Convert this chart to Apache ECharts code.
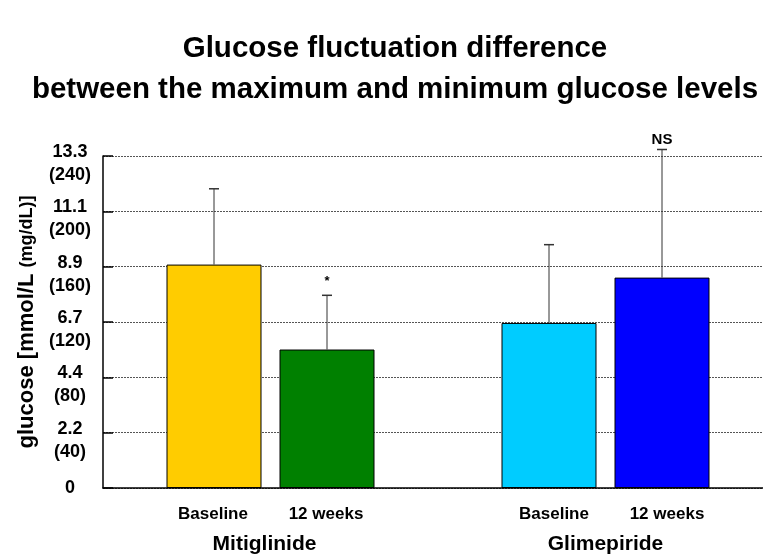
<!DOCTYPE html>
<html>
<head>
<meta charset="utf-8">
<script src="https://cdn.jsdelivr.net/npm/echarts@6/dist/echarts.min.js"></script>
<style>
  html, body { margin: 0; padding: 0; background: #fff; }
  #main { width: 763px; height: 555px; }
</style>
</head>
<body>
<div id="main"></div>
<script>
// data (glucose in mg/dL)
var groups = ['Mitiglinide', 'Glimepiride'];
var periods = ['Baseline', '12 weeks'];
var baselineMean = [161.5, 119.3];
var baselineSD = [54.8, 56.6];
var week12Mean = [100.1, 152.1];
var week12SD = [39.2, 92.6];
var week12Sig = ['*', 'NS'];
var baselineSig = ['', ''];
var mgTicks = [0, 40, 80, 120, 160, 200, 240];
var mmolTicks = ['0', '2.2', '4.4', '6.7', '8.9', '11.1', '13.3'];

var baselineColors = ['#FFCC00', '#00CCFF'];
var week12Colors = ['#008000', '#0000FF'];

var FONT = 'Liberation Sans, Arial, sans-serif';
var BAR_W = 95;
var BAR_GAP = 18;

var myChart = echarts.init(document.getElementById('main'));

function errorSeries(means, sds, sigs, side) {
  var data = means.map(function (m, i) { return [i, m, m + sds[i], sigs[i]]; });
  return {
    type: 'custom',
    z: 5,
    clip: false,
    data: data,
    renderItem: function (params, api) {
      var lo = api.coord([api.value(0), api.value(1)]);
      var hi = api.coord([api.value(0), api.value(2)]);
      var x = lo[0] + side * (BAR_W + BAR_GAP) / 2;
      var sig = data[params.dataIndex][3];
      var children = [
        { type: 'line', shape: { x1: x, y1: lo[1], x2: x, y2: hi[1] }, style: { stroke: '#333', lineWidth: 1 } },
        { type: 'line', shape: { x1: x - 5, y1: hi[1], x2: x + 5, y2: hi[1] }, style: { stroke: '#333', lineWidth: 1.5 } }
      ];
      if (sig) {
        children.push({
          type: 'text',
          style: {
            text: sig, x: x, y: hi[1] - (sig === '*' ? 7 : 2),
            align: 'center', verticalAlign: 'bottom',
            font: 'bold ' + (sig === '*' ? 13 : 15) + 'px ' + FONT, fill: '#000'
          }
        });
      }
      return { type: 'group', children: children };
    }
  };
}

function barData(means, colors) {
  return means.map(function (v, i) {
    return {
      value: v,
      itemStyle: { color: colors[i] },
      label: { offset: [i === 1 ? 5 : -1, 40] }
    };
  });
}

var barLabel = {
  show: true, position: 'insideBottom', formatter: '{a}',
  fontFamily: FONT, fontSize: 17, fontWeight: 'bold', color: '#000'
};

var tickText = { fontFamily: FONT, fontSize: 18, fontWeight: 'bold', color: '#000' };

var option = {
  animation: false,
  backgroundColor: '#fff',
  graphic: [{
    type: 'text',
    x: 395,
    y: 28,
    style: {
      text: 'Glucose fluctuation difference\nbetween the maximum and minimum glucose levels',
      align: 'center',
      verticalAlign: 'top',
      lineHeight: 41,
      font: 'bold 29.5px ' + FONT,
      fill: '#000'
    }
  }],
  grid: { left: 103, width: 670, top: 156, bottom: 67, containLabel: false, outerBoundsMode: 'none' },
  xAxis: {
    type: 'category',
    data: groups,
    axisLine: { lineStyle: { color: '#000', width: 1.5 } },
    axisTick: { inside: true, length: 7, lineStyle: { color: '#000', width: 1.5 } },
    axisLabel: {
      margin: 46,
      formatter: function (v, i) { return i === 0 ? '{l|' + v + '}' : '{n|' + v + '}'; },
      rich: {
        l: { padding: [0, 12, 0, 0], fontFamily: FONT, fontSize: 21, fontWeight: 'bold', color: '#000' },
        n: { fontFamily: FONT, fontSize: 21, fontWeight: 'bold', color: '#000' }
      }
    }
  },
  yAxis: {
    type: 'value',
    min: 0, max: 240, interval: 40,
    name: '{a|glucose [mmol/L }{b|(mg/dL)]}',
    nameLocation: 'middle',
    nameGap: 65,
    nameRotate: 90,
    nameTextStyle: {
      rich: {
        a: { fontFamily: FONT, fontSize: 22, fontWeight: 'bold', color: '#000' },
        b: { fontFamily: FONT, fontSize: 18, fontWeight: 'bold', color: '#000' }
      }
    },
    axisLine: { show: true, lineStyle: { color: '#000', width: 1.5 } },
    axisTick: { show: true, inside: true, length: 10, lineStyle: { color: '#000', width: 1.5 } },
    axisLabel: {
      margin: 33,
      align: 'center',
      showMinLabel: true,
      showMaxLabel: true,
      formatter: function (v) {
        var i = mgTicks.indexOf(v);
        if (i === 0) return '{z|' + mmolTicks[0] + '}';
        return '{a|' + mmolTicks[i] + '}\n{b|(' + mgTicks[i] + ')}';
      },
      rich: {
        z: Object.assign({ lineHeight: 23 }, tickText),
        a: Object.assign({ lineHeight: 38 }, tickText),
        b: Object.assign({ lineHeight: 8 }, tickText)
      }
    },
    splitLine: { show: true, lineStyle: { type: [2, 1], color: '#555', width: 1 } }
  },
  series: [
    {
      name: periods[0],
      type: 'bar',
      barWidth: BAR_W,
      barGap: (BAR_GAP / BAR_W * 100) + '%',
      data: barData(baselineMean, baselineColors),
      itemStyle: { borderColor: '#000', borderWidth: 1 },
      label: barLabel
    },
    {
      name: periods[1],
      type: 'bar',
      barWidth: BAR_W,
      data: barData(week12Mean, week12Colors),
      itemStyle: { borderColor: '#000', borderWidth: 1 },
      label: barLabel
    },
    errorSeries(baselineMean, baselineSD, baselineSig, -1),
    errorSeries(week12Mean, week12SD, week12Sig, 1)
  ]
};

myChart.setOption(option);
</script>
</body>
</html>
